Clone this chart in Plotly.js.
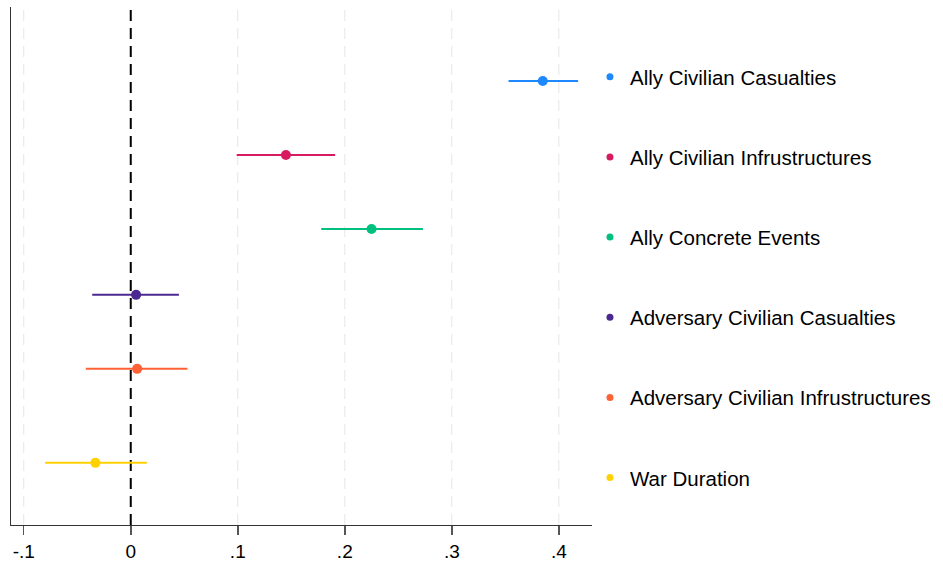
<!DOCTYPE html>
<html>
<head>
<meta charset="utf-8">
<script src="https://cdn.plot.ly/plotly-3.0.1.min.js"></script>
<style>html,body{margin:0;padding:0;background:#fff;}#chart{width:943px;height:562px;}</style>
</head>
<body>
<div id="chart"></div>
<script>
var names = ["Ally Civilian Casualties", "Ally Civilian Infrustructures", "Ally Concrete Events",
             "Adversary Civilian Casualties", "Adversary Civilian Infrustructures", "War Duration"];
var estimates = [0.385, 0.145, 0.225, 0.005, 0.006, -0.033];
var ciLow  = [0.353, 0.099, 0.178, -0.036, -0.042, -0.080];
var ciHigh = [0.418, 0.191, 0.273, 0.045, 0.053, 0.015];
var rowPos = [1, 2, 3, 3.89, 4.89, 6.16];
var colors = ["#1E88FF", "#D81B60", "#00C07F", "#4B2991", "#FE6136", "#FFD100"];
var tickVals = [-0.1, 0, 0.1, 0.2, 0.3, 0.4];
var tickText = ["-.1", "0", ".1", ".2", ".3", ".4"];

var traces = [];
for (var i = 0; i < names.length; i++) {
  traces.push({
    type: "scatter", mode: "markers",
    x: [estimates[i]], y: [rowPos[i]],
    name: names[i], legendgroup: "g" + i,
    marker: {color: colors[i], size: 10},
    error_x: {type: "data", symmetric: false,
              array: [ciHigh[i] - estimates[i]], arrayminus: [estimates[i] - ciLow[i]],
              color: colors[i], thickness: 2, width: 0},
    showlegend: false, hoverinfo: "x"
  });
  traces.push({
    type: "scatter", mode: "markers",
    x: [null], y: [null],
    name: names[i], legendgroup: "g" + i,
    marker: {color: colors[i], size: 7},
    showlegend: true
  });
}

var shapes = [];
tickVals.forEach(function (v) {
  if (v !== 0) {
    shapes.push({type: "line", xref: "x", yref: "paper", x0: v, x1: v, y0: 0, y1: 1,
                 line: {color: "#e6e6e6", width: 1, dash: "11px,7px"}, layer: "below"});
  }
});
shapes.push({type: "line", xref: "x", yref: "paper", x0: 0, x1: 0, y0: 0, y1: 1,
             line: {color: "#000", width: 2, dash: "11px,7px"}, layer: "below"});

var layout = {
  width: 943, height: 562,
  margin: {l: 11, r: 351, t: 7, b: 37},
  paper_bgcolor: "#fff", plot_bgcolor: "#fff",
  font: {family: "Liberation Sans, Arial, Helvetica, sans-serif", color: "#000", size: 19},
  showlegend: true,
  legend: {x: 0.9965, xanchor: "left", y: 0.9035, yanchor: "top",
           traceorder: "grouped", tracegroupgap: 50.5,
           font: {size: 20.5, color: "#000"}, bgcolor: "rgba(0,0,0,0)",
           itemclick: false},
  xaxis: {
    range: [-0.1119, 0.431], tickvals: tickVals, ticktext: tickText,
    showgrid: false, zeroline: false, showline: true, linecolor: "#333", linewidth: 1,
    ticks: "outside", ticklen: 9, tickcolor: "#555", tickwidth: 1.5,
    tickfont: {size: 19, color: "#000"}, fixedrange: true
  },
  yaxis: {
    range: [7, 0], showgrid: false, zeroline: false, showticklabels: false,
    showline: true, linecolor: "#333", linewidth: 1, ticks: "", fixedrange: true
  },
  shapes: shapes
};

Plotly.newPlot("chart", traces, layout, {displayModeBar: false, staticPlot: true});
</script>
</body>
</html>
